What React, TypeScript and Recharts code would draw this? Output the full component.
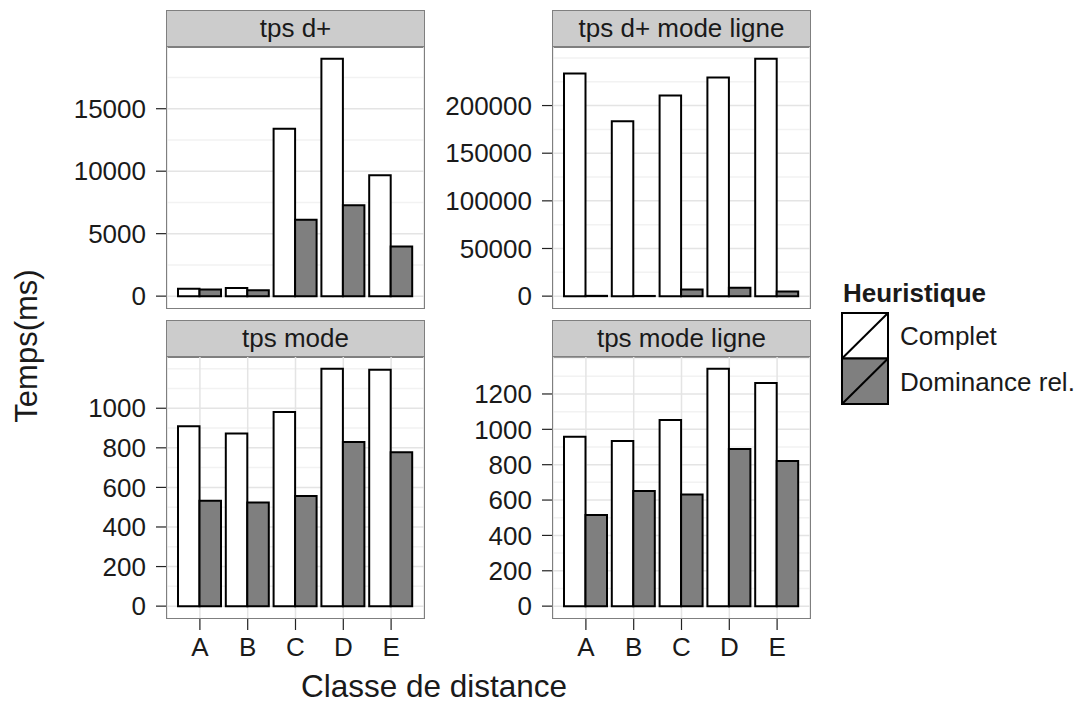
import React from 'react';
import { BarChart, Bar, XAxis, YAxis, CartesianGrid } from 'recharts';

// ---------- data ----------
const categories = ['A', 'B', 'C', 'D', 'E'];
const seriesNames = ['Complet', 'Dominance rel.'];
const seriesFills = ['#ffffff', '#7f7f7f'];
const facetTitles = ['tps d+', 'tps d+ mode ligne', 'tps mode', 'tps mode ligne'];

const tpsDplusComplet = [600, 650, 13400, 18990, 9680];
const tpsDplusDominance = [530, 480, 6110, 7280, 3970];

const tpsDplusLigneComplet = [233600, 183600, 210500, 229400, 249000];
const tpsDplusLigneDominance = [300, 200, 7000, 8700, 4900];

const tpsModeComplet = [909, 872, 981, 1199, 1194];
const tpsModeDominance = [532, 524, 557, 829, 777];

const tpsModeLigneComplet = [958, 934, 1053, 1342, 1262];
const tpsModeLigneDominance = [515, 651, 632, 889, 821];

const ticksDplus = [0, 5000, 10000, 15000];
const minorDplus = [2500, 7500, 12500, 17500];
const ticksDplusLigne = [0, 50000, 100000, 150000, 200000];
const minorDplusLigne = [25000, 75000, 125000, 175000, 225000, 250000];
const ticksMode = [0, 200, 400, 600, 800, 1000];
const minorMode = [100, 300, 500, 700, 900, 1100, 1200];
const ticksModeLigne = [0, 200, 400, 600, 800, 1000, 1200];
const minorModeLigne = [100, 300, 500, 700, 900, 1100, 1300, 1400];

const xTitle = 'Classe de distance';
const yTitle = 'Temps(ms)';
const legendTitle = 'Heuristique';

// ---------- layout ----------
const FONT = '"Liberation Sans", Arial, Helvetica, sans-serif';
const PANEL_W = 257;
const PLOT_H = 261;
const STRIP_H = 37;
const Y_AXIS_W = 140;
const X_AXIS_H = 60;
const TOP_PAD_BOTTOM = 16;
const COLS = [167, 553];
const ROWS = [10, 320];
const TEXT = '#1a1a1a';
const BORDER = '#7f7f7f';
const BAR_STROKE = 2;

type PanelProps = {
  title: string;
  complet: number[];
  dominance: number[];
  ticks: number[];
  minor: number[];
  left: number;
  stripTop: number;
  showX: boolean;
};

function Panel({ title, complet, dominance, ticks, minor, left, stripTop, showX }: PanelProps) {
  const data = categories.map((c, i) => ({ cat: c, complet: complet[i], dominance: dominance[i] }));
  const max = Math.max(0, ...complet, ...dominance);
  const domain: [number, number] = [-0.05 * max, 1.05 * max];
  const plotTop = stripTop + STRIP_H;
  const xh = showX ? X_AXIS_H : 0;
  const mb = showX ? 0 : TOP_PAD_BOTTOM;
  return (
    <>
      <div
        style={{
          position: 'absolute',
          left: left - 0.75,
          top: stripTop,
          width: PANEL_W + 1.5,
          height: STRIP_H + 0.75,
          boxSizing: 'border-box',
          background: '#cccccc',
          border: `1.5px solid ${BORDER}`,
          color: TEXT,
          fontSize: 26,
          lineHeight: `${STRIP_H - 3}px`,
          textAlign: 'center',
          whiteSpace: 'nowrap',
        }}
      >
        {title}
      </div>
      <div style={{ position: 'absolute', left: left - Y_AXIS_W, top: plotTop }}>
        <BarChart
          width={Y_AXIS_W + PANEL_W}
          height={PLOT_H + xh + mb}
          data={data}
          margin={{ top: 0, right: 0, bottom: mb, left: 0 }}
          barGap={0}
        >
          <CartesianGrid horizontalValues={minor} vertical={false} stroke="#f2f2f2" strokeWidth={1.5} />
          <CartesianGrid horizontalValues={ticks} stroke="#e4e4e4" strokeWidth={1.5} />
          <XAxis
            dataKey="cat"
            type="category"
            padding={{ left: 9, right: 9 }}
            height={xh}
            interval={0}
            axisLine={false}
            tick={showX ? { fill: TEXT, fontSize: 26 } : false}
            tickLine={showX ? { stroke: '#222', strokeWidth: 1.2 } : false}
            tickSize={12}
            tickMargin={8}
          />
          <YAxis
            type="number"
            domain={domain}
            ticks={ticks}
            allowDataOverflow
            interval={0}
            width={Y_AXIS_W}
            axisLine={false}
            tick={{ fill: TEXT, fontSize: 26 }}
            tickLine={{ stroke: '#222', strokeWidth: 1.2 }}
            tickSize={11}
            tickMargin={10}
          />
          <Bar dataKey="complet" name={seriesNames[0]} fill={seriesFills[0]} stroke="#000" strokeWidth={BAR_STROKE} barSize={21.5} isAnimationActive={false} />
          <Bar dataKey="dominance" name={seriesNames[1]} fill={seriesFills[1]} stroke="#000" strokeWidth={BAR_STROKE} barSize={21.5} isAnimationActive={false} />
        </BarChart>
      </div>
      <div
        style={{
          position: 'absolute',
          left: left - 0.75,
          top: plotTop - 0.75,
          width: PANEL_W + 1.5,
          height: PLOT_H + 1.5,
          boxSizing: 'border-box',
          border: `1.5px solid ${BORDER}`,
          pointerEvents: 'none',
        }}
      />
    </>
  );
}

function Legend() {
  const kx = 842;
  const ky = 313;
  const kw = 46;
  const kh = 45.5;
  return (
    <g>
      <text x={843} y={302} fontSize={26} fontWeight="bold" fill={TEXT}>
        {legendTitle}
      </text>
      {seriesNames.map((name, i) => (
        <g key={name}>
          <rect x={kx} y={ky + i * kh} width={kw} height={kh} fill={seriesFills[i]} stroke="#000" strokeWidth={BAR_STROKE} />
          <line x1={kx} y1={ky + (i + 1) * kh} x2={kx + kw} y2={ky + i * kh} stroke="#000" strokeWidth={BAR_STROKE} />
          <text x={900} y={ky + i * kh + kh / 2 + 9.5} fontSize={26} fill={TEXT}>
            {name}
          </text>
        </g>
      ))}
    </g>
  );
}

export default function App() {
  const panels = [
    { complet: tpsDplusComplet, dominance: tpsDplusDominance, ticks: ticksDplus, minor: minorDplus },
    { complet: tpsDplusLigneComplet, dominance: tpsDplusLigneDominance, ticks: ticksDplusLigne, minor: minorDplusLigne },
    { complet: tpsModeComplet, dominance: tpsModeDominance, ticks: ticksMode, minor: minorMode },
    { complet: tpsModeLigneComplet, dominance: tpsModeLigneDominance, ticks: ticksModeLigne, minor: minorModeLigne },
  ];
  return (
    <div
      style={{
        position: 'absolute',
        left: 0,
        top: 0,
        width: 1083,
        height: 704,
        background: '#ffffff',
        fontFamily: FONT,
        overflow: 'hidden',
      }}
    >
      {panels.map((p, i) => (
        <Panel
          key={facetTitles[i]}
          title={facetTitles[i]}
          complet={p.complet}
          dominance={p.dominance}
          ticks={p.ticks}
          minor={p.minor}
          left={COLS[i % 2]}
          stripTop={ROWS[Math.floor(i / 2)]}
          showX={i >= 2}
        />
      ))}
      <svg
        width={1083}
        height={704}
        style={{ position: 'absolute', left: 0, top: 0, pointerEvents: 'none', fontFamily: FONT }}
      >
        <text x={434} y={697} fontSize={31.5} textAnchor="middle" fill={TEXT}>
          {xTitle}
        </text>
        <text x={36.5} y={346} fontSize={31} textAnchor="middle" fill={TEXT} transform="rotate(-90 36.5 346)">
          {yTitle}
        </text>
        <Legend />
      </svg>
    </div>
  );
}
